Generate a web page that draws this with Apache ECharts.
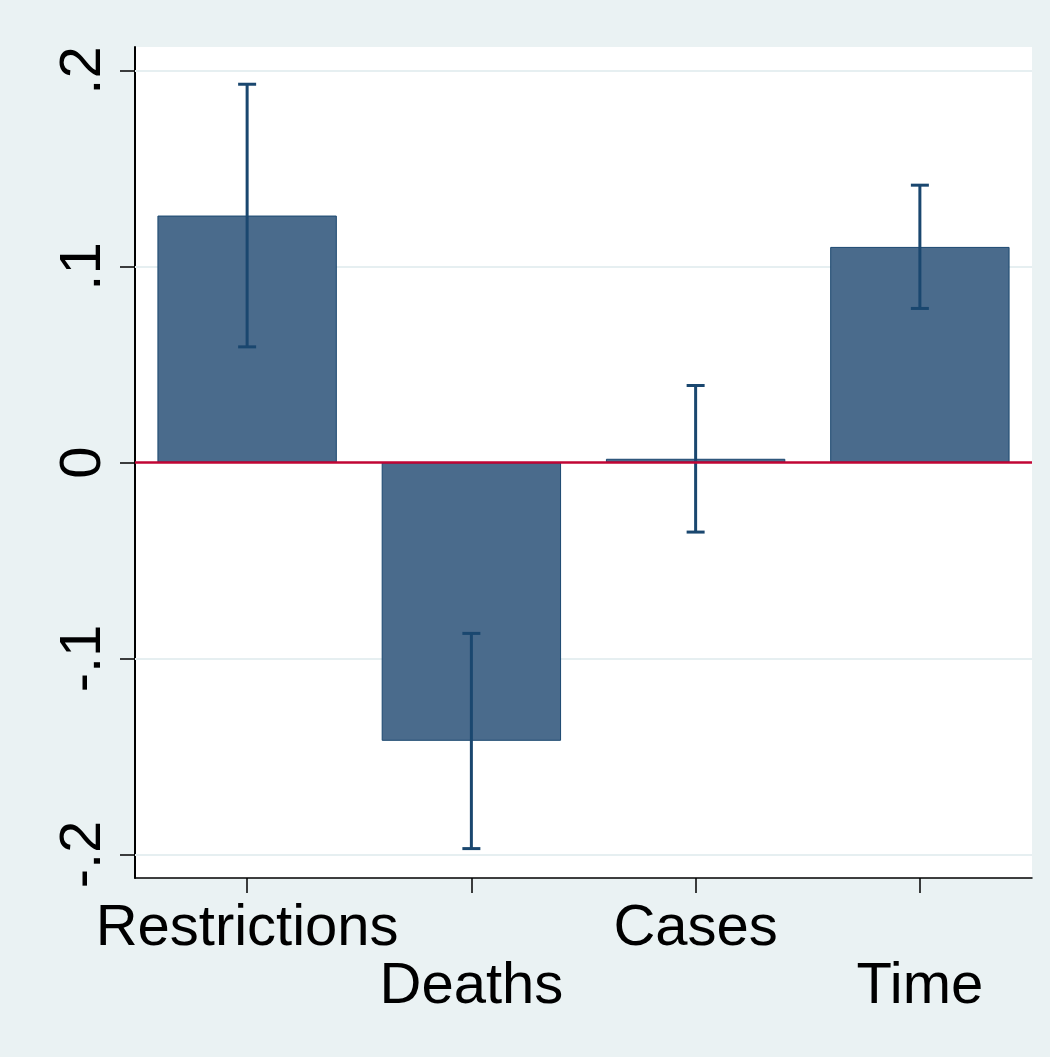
<!DOCTYPE html>
<html>
<head>
<meta charset="utf-8">
<script src="https://cdn.jsdelivr.net/npm/echarts@6/dist/echarts.min.js"></script>
<style>html,body{margin:0;padding:0;background:#eaf2f3}#c{width:1050px;height:1057px}</style>
</head>
<body>
<div id="c"></div>
<script>
var categories = ['Restrictions', 'Deaths', 'Cases', 'Time'];
var coefficients = [0.126, -0.142, 0.0019, 0.110];
var ciLow = [0.059, -0.197, -0.0355, 0.0786];
var ciHigh = [0.193, -0.0872, 0.0393, 0.1415];
var yTicks = [-0.2, -0.1, 0, 0.1, 0.2];
var yTickLabels = ['-.2', '-.1', '0', '.1', '.2'];

var ciData = categories.map(function (c, i) { return [i, ciLow[i], ciHigh[i]]; });
var gridLines = yTicks.filter(function (v) { return v !== 0; }).map(function (v) { return { yAxis: v }; });

var chart = echarts.init(document.getElementById('c'), null, { renderer: 'canvas' });
chart.setOption({
  backgroundColor: '#eaf2f3',
  animation: false,
  grid: { left: 135, right: 18, top: 47, bottom: 179, show: true, backgroundColor: '#ffffff', borderWidth: 0 },
  xAxis: {
    type: 'category',
    data: categories,
    axisLine: { onZero: false, lineStyle: { color: '#000', width: 1.5 } },
    axisTick: { show: true, interval: 0, alignWithLabel: true, length: 15, lineStyle: { color: '#000', width: 1.5 } },
    axisLabel: {
      interval: 0,
      color: '#000',
      fontFamily: 'Liberation Sans',
      fontSize: 58,
      lineHeight: 58,
      margin: 22,
      formatter: function (v, i) { return i % 2 === 1 ? '\n' + v : v; }
    },
    splitLine: { show: false }
  },
  yAxis: {
    type: 'value',
    min: -0.212,
    max: 0.212,
    axisLine: { show: true, lineStyle: { color: '#000', width: 2 } },
    axisTick: { show: true, length: 15, customValues: yTicks, lineStyle: { color: '#000', width: 1.5 } },
    axisLabel: {
      customValues: yTicks,
      rotate: 90,
      margin: 22,
      color: '#000',
      fontFamily: 'Liberation Sans',
      fontSize: 58,
      formatter: function (v) {
        for (var k = 0; k < yTicks.length; k++) { if (Math.abs(yTicks[k] - v) < 1e-9) return yTickLabels[k]; }
        return '';
      }
    },
    splitLine: { show: false }
  },
  series: [
    {
      type: 'bar',
      data: coefficients,
      barWidth: '80%',
      itemStyle: { color: '#4a6b8c', borderColor: '#1a476f', borderWidth: 1 },
      z: 2,
      markLine: {
        silent: true,
        symbol: 'none',
        label: { show: false },
        lineStyle: { color: '#e6eff1', width: 2, type: 'solid' },
        data: gridLines,
        z: 1
      }
    },
    {
      type: 'line',
      data: [],
      markLine: {
        silent: true,
        symbol: 'none',
        label: { show: false },
        lineStyle: { color: '#c10534', width: 2.5, type: 'solid' },
        data: [{ yAxis: 0 }]
      },
      z: 3
    },
    {
      type: 'custom',
      data: ciData,
      z: 4,
      renderItem: function (params, api) {
        var x = api.value(0);
        var lo = api.coord([x, api.value(1)]);
        var hi = api.coord([x, api.value(2)]);
        var hw = 9;
        var st = { stroke: '#1a476f', lineWidth: 3 };
        return {
          type: 'group',
          children: [
            { type: 'line', shape: { x1: lo[0], y1: lo[1], x2: hi[0], y2: hi[1] }, style: st },
            { type: 'line', shape: { x1: hi[0] - hw, y1: hi[1], x2: hi[0] + hw, y2: hi[1] }, style: st },
            { type: 'line', shape: { x1: lo[0] - hw, y1: lo[1], x2: lo[0] + hw, y2: lo[1] }, style: st }
          ]
        };
      }
    }
  ]
});
</script>
</body>
</html>
